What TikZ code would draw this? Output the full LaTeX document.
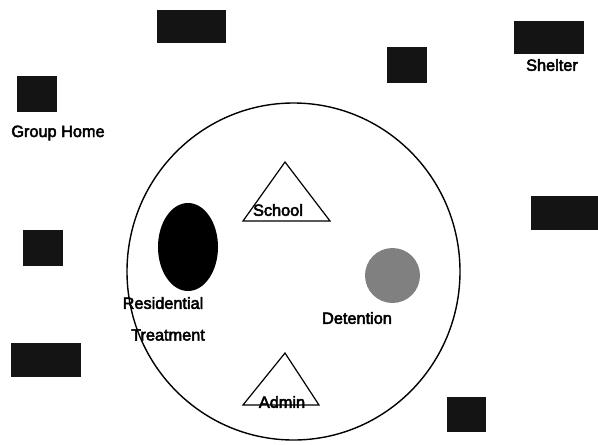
\documentclass[tikz,border=0pt]{standalone}
\usepackage{fontspec}
\setmainfont{Liberation Sans}
\newfontfamily\lblfont{Liberation Sans}[FakeBold=3]
\usetikzlibrary{shapes.geometric}
\begin{document}
\begin{tikzpicture}[x=1pt,y=-1pt,
  blk/.style={draw=none,fill=black!92,inner sep=0pt,outer sep=0pt},
  lbl/.style={font=\lblfont\fontsize{16.3}{18}\selectfont,inner sep=0pt},
  tri/.style={draw=black,line width=1.2pt,fill=white,line join=miter}]
\useasboundingbox (0,0) rectangle (598,445);
% big circle
\node[draw=black,line width=1.4pt,ellipse,minimum width=333pt,minimum height=337pt,inner sep=0pt] (ring) at (293.5,271.5) {};
% outer blocks
\node[blk,minimum width=69pt,minimum height=33pt] (topbox) at (191.5,26.5) {};
\node[blk,minimum width=40pt,minimum height=36pt] (group) at (37,94) {};
\node[lbl] (grouplbl) at (58,133) {Group Home};
\node[blk,minimum width=40pt,minimum height=36pt] (sq1) at (407,65) {};
\node[blk,minimum width=70pt,minimum height=33pt] (shelter) at (549,37.5) {};
\node[lbl] (shelterlbl) at (552,65) {Shelter};
\node[blk,minimum width=70pt,minimum height=34pt] (rightbox) at (566,213) {};
\node[blk,minimum width=40pt,minimum height=36pt] (sq2) at (43,248) {};
\node[blk,minimum width=70pt,minimum height=34pt] (blbox) at (46,360) {};
\node[blk,minimum width=39pt,minimum height=35pt] (sq3) at (466.5,414.5) {};
% inside
\coordinate (sA) at (285,162);
\coordinate (sB) at (243,221);
\coordinate (sC) at (330,221);
\draw[tri] (sA) -- (sB) -- (sC) -- cycle;
\node[lbl] (school) at (278,210) {School};
\coordinate (aA) at (285,353);
\coordinate (aB) at (243,405);
\coordinate (aC) at (319,405);
\draw[tri] (aA) -- (aB) -- (aC) -- cycle;
\node[lbl] (admin) at (282,402) {Admin};
\node[ellipse,fill=black,minimum width=60pt,minimum height=88pt,inner sep=0pt] (resid) at (188,247) {};
\node[lbl] (res1) at (163,303) {Residential};
\node[lbl] (res2) at (168,335) {Treatment};
\node[circle,fill=black!50,minimum size=55pt,inner sep=0pt] (det) at (392.5,275.5) {};
\node[lbl] (detlbl) at (357,318) {Detention};
\end{tikzpicture}
\end{document}
